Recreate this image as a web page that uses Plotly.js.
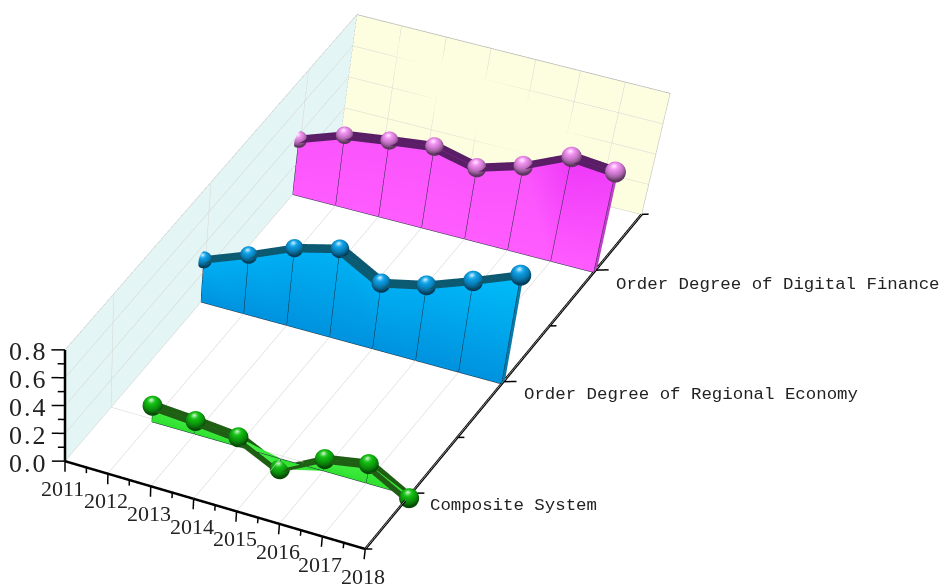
<!DOCTYPE html>
<html><head><meta charset="utf-8">
<script src="https://cdn.plot.ly/plotly-3.0.1.min.js"></script>
<style>html,body{margin:0;padding:0;background:#fff;overflow:hidden}#c{width:941px;height:585px}
text.annotation-text[style*="26px"]{letter-spacing:2px}</style>
</head><body><div id="c"></div>
<script>
const seriesNames=["Composite System","Order Degree of Regional Economy","Order Degree of Digital Finance"];
const seriesPos=[0,1,2];
const years=[2011,2012,2013,2014,2015,2016,2017,2018];
const compositeYears=[2012,2013,2014,2015,2016,2017,2018];
const composite=[0.114,0.093,0.065,-0.076,0.085,0.138,-0.02];
const regional=[0.287,0.401,0.530,0.608,0.454,0.522,0.636,0.761];
const digital=[0.362,0.464,0.504,0.540,0.475,0.564,0.700,0.676];
const zTicks=[0,0.2,0.4,0.6,0.8];
const zTickText=['0.0','0.2','0.4','0.6','0.8'];
const styles=[
 {low:[47,224,47],high:[69,240,69],deep:[69,240,69],side:'#1fa01f',top:'#1f5f14',ball:[14,176,14]},
 {low:[0,146,222],high:[0,176,244],deep:[0,190,250],side:'#0a7aa8',top:'#0b5a72',ball:[10,148,214]},
 {low:[255,92,255],high:[250,84,252],deep:[238,56,248],side:'#c040c8',top:'#5a1e66',ball:[222,130,222]}];
const depth=0.038, seat=-0.02, xr=[2011,2018], yr=[-0.5,2.5], zr=[0,0.8];
const pxX=47.4, pxY=212.3, pxZ=170;
const right=[0.893,0.449,0], up=[-0.263,0.523,0.81], view=[0.364,-0.724,0.586];
const hx=right[0]/pxX, hy=right[1]/pxY;
// the original is keystoned: the floor is not a parallelogram and verticals lean to a far point
const corners={a:[66,460],b:[365,548],c:[642,215],d:[342,139]}, vp=[66,3250], rise=0.0497, lean=7;
function warp(x,y,z){
 const s=(x-2011)/7,t=(y+0.5)/3;
 const fx=(1-s)*(1-t)*corners.a[0]+s*(1-t)*corners.b[0]+s*t*corners.c[0]+(1-s)*t*corners.d[0];
 const fy=(1-s)*(1-t)*corners.a[1]+s*(1-t)*corners.b[1]+s*t*corners.c[1]+(1-s)*t*corners.d[1];
 const k=1+rise*z;
 const Tx=vp[0]+(fx-vp[0])*k+lean*z*t, Ty=vp[1]+(fy-vp[1])*k;
 const ax=x-2011,ay=y+0.5;
 const Px=66+ax*pxX*right[0]+ay*pxY*right[1];
 const Py=460-ax*pxX*up[0]-ay*pxY*up[1]-z*pxZ*up[2];
 const dr=Tx-Px, du=-(Ty-Py);
 return [x+(dr*right[0]+du*up[0])/pxX, y+(dr*right[1]+du*up[1])/pxY, z+(du*up[2])/pxZ];
}
let L=[0,1,2].map(i=>0.78*view[i]+0.55*up[i]-0.12*right[i]);
const Ln=Math.hypot(...L); L=L.map(v=>v/Ln);
const css=c=>'rgb('+c.map(Math.round).join(',')+')';
function ball(cx,cy,cz,rgb,R){
 const c=warp(cx,cy,cz);
 const X=[],Y=[],Z=[],I=[],J=[],K=[],C=[],nu=26,nv=18;
 for(let v=0;v<=nv;v++)for(let u=0;u<nu;u++){
  const t=Math.PI*v/nv,p=2*Math.PI*u/nu;
  const n=[Math.sin(t)*Math.cos(p),Math.sin(t)*Math.sin(p),Math.cos(t)];
  X.push(c[0]+R*n[0]/pxX);Y.push(c[1]+R*n[1]/pxY);Z.push(c[2]+R*n[2]/pxZ);
  const d=Math.max(0,n[0]*L[0]+n[1]*L[1]+n[2]*L[2]);
  const f=0.42+0.72*d, s=0.8*Math.pow(d,28);
  C.push(css(rgb.map(b=>Math.min(255,b*f*(1-s)+255*s))));
 }
 for(let v=0;v<nv;v++)for(let u=0;u<nu;u++){
  const a=v*nu+u,b=v*nu+(u+1)%nu,e=(v+1)*nu+u,g=(v+1)*nu+(u+1)%nu;
  I.push(b,g);J.push(a,b);K.push(e,e);
 }
 return {type:'mesh3d',x:X,y:Y,z:Z,i:I,j:J,k:K,vertexcolor:C,hoverinfo:'skip',showscale:false,
  lighting:{ambient:1,diffuse:0,specular:0,roughness:1,fresnel:0}};
}
function strip(railA,railB,colA,colB){
 const X=[],Y=[],Z=[],I=[],J=[],K=[],C=[];
 railA.forEach((a,n)=>{const p=warp(...a),q=warp(...railB[n]);X.push(p[0],q[0]);Y.push(p[1],q[1]);Z.push(p[2],q[2]);
  C.push(Array.isArray(colA)?colA[n]:colA,Array.isArray(colB)?colB[n]:colB);});
 for(let n=0;n<railA.length-1;n++){const a=2*n;I.push(a,a+1);J.push(a+1,a+3);K.push(a+2,a+2);}
 return {type:'mesh3d',x:X,y:Y,z:Z,i:I,j:J,k:K,vertexcolor:C,hoverinfo:'skip',showscale:false,
  lighting:{ambient:1,diffuse:0,specular:0,roughness:1,fresnel:0}};
}
function segs(list,width,color){
 const x=[],y=[],z=[];
 list.forEach(s=>{const a=warp(s[0],s[1],s[2]),b=warp(s[3],s[4],s[5]);x.push(a[0],b[0],null);y.push(a[1],b[1],null);z.push(a[2],b[2],null);});
 return {type:'scatter3d',mode:'lines',x,y,z,line:{color,width},hoverinfo:'skip',showlegend:false};
}
const traces=[];
const x0=xr[0],x1=xr[1],y0=yr[0],y1=yr[1],zt=zr[1];
traces.push(strip([[x0,y0,0],[x0,y1,0]],[[x0,y0,zt],[x0,y1,zt]],'#e4f5f5','#e4f5f5'));
traces.push(strip([[x0,y1,0],[x1,y1,0]],[[x0,y1,zt],[x1,y1,zt]],'#fdfde0','#fdfde0'));
const e=0.002, g=[];
years.forEach(v=>{g.push([v,y0,e,v,y1,e]);g.push([v,y1-e,0,v,y1-e,zt]);});
seriesPos.forEach(v=>{g.push([x0,v,e,x1,v,e]);g.push([x0+e,v,0,x0+e,v,zt]);});
zTicks.forEach(v=>{g.push([x0+e,y0,v,x0+e,y1,v]);g.push([x0,y1-e,v,x1,y1-e,v]);});
traces.push(segs(g,1,'#d4d6d0'));
traces.push(segs([[x0,y0,zt,x0,y1,zt],[x0,y1,0,x0,y1,zt],[x0,y0,0,x0,y1,0]],1,'#6f8080'));
traces.push(segs([[x0,y1,zt,x1,y1,zt],[x1,y1,0,x1,y1,zt],[x0,y1,0,x1,y1,0]],1,'#80807a'));
[[compositeYears,composite],[years,regional],[years,digital]].forEach(([xs,vals],s)=>{
 const y=seriesPos[s]+seat,st=styles[s];
 const last=xs.length-1;
 const topCol=vals.map(v=>{const q=Math.max(0,Math.min(1,(v-0.58)/0.12));return css(st.high.map((h,i)=>h+(st.deep[i]-h)*q));});
 traces.push(strip(xs.map(x=>[x,y,0]),xs.map((x,n)=>[x,y,vals[n]]),css(st.low),topCol));
 traces.push(strip(xs.map((x,n)=>[x,y-depth,vals[n]]),xs.map((x,n)=>[x,y+depth,vals[n]]),st.top,st.top));
 traces.push(strip([[xs[last],y,0],[xs[last],y+depth,0]],[[xs[last],y,vals[last]],[xs[last],y+depth,vals[last]]],st.side,st.side));
 const f=y-0.001,list=xs.map((x,n)=>[x,f,0,x,f,vals[n]]);
 list.push([xs[0],f,0,xs[last],f,0]);
 traces.push(segs(list,1,'#1c2a3a'));
 xs.forEach((x,n)=>traces.push(ball(x,y,vals[n],st.ball,s===0?10:8.5+2*n/7)));
});
traces.push(segs([[x0,y0,0,x1,y0,0],[x1,y0,0,x1,y1,0],[x0,y0,0,x0,y0,zt]],5,'#000'));
const tk=[];
years.forEach(v=>tk.push([v,y0,0,v,y0,-13/171]));
years.slice(0,-1).forEach(v=>tk.push([v+0.5,y0,0,v+0.5,y0,-7/171]));
zTicks.forEach(v=>tk.push([x0,y0,v,x0-13*hx,y0-13*hy,v]));
zTicks.slice(0,-1).forEach(v=>tk.push([x0,y0,v+0.1,x0-7*hx,y0-7*hy,v+0.1]));
seriesPos.forEach(v=>tk.push([x1,v,0,x1+13*hx,v+13*hy,0]));
[-0.5,0.5,1.5,2.5].forEach(v=>tk.push([x1,v,0,x1+7*hx,v+7*hy,0]));
traces.push(segs(tk,3,'#000'));

const hidden={showline:false,ticks:'',showticklabels:false,showgrid:false,zeroline:false,showspikes:false,showbackground:false,title:{text:''}};
const ann=[];
const add=(t,x,y,xa,fam,size)=>ann.push({xref:'paper',yref:'paper',x:x/941,y:1-y/585,text:t,showarrow:false,xanchor:xa,yanchor:'middle',font:{family:fam,size:size,color:'#222'}});
seriesNames.forEach((t,n)=>add(t,[428,522,614][n],[505,394,284][n],'left','Liberation Mono',17.4));
years.forEach((t,n)=>add(String(t),63+42.9*n,488+12.7*n,'center','Liberation Serif',22));
zTicks.forEach((v,n)=>add(zTickText[n],50,463-139*v,'right','Liberation Serif',26));
const layout={width:941,height:585,margin:{l:0,r:0,t:0,b:0},showlegend:false,paper_bgcolor:'#fff',annotations:ann,
 scene:{domain:{x:[0,1],y:[0,1]},aspectmode:'manual',aspectratio:{x:1.462,y:2.911,z:0.699},
  camera:{projection:{type:'orthographic'},center:{x:0.358,y:0.156,z:-0.029},up:{x:0,y:0,z:1},eye:{x:0.884,y:-0.897,z:0.822}},
  xaxis:Object.assign({},hidden,{range:[2010,2019]}),
  yaxis:Object.assign({},hidden,{range:[-1,3]}),
  zaxis:Object.assign({},hidden,{range:[-0.2,1.0]})}};
Plotly.newPlot('c',traces,layout,{displayModeBar:false});
</script></body></html>
